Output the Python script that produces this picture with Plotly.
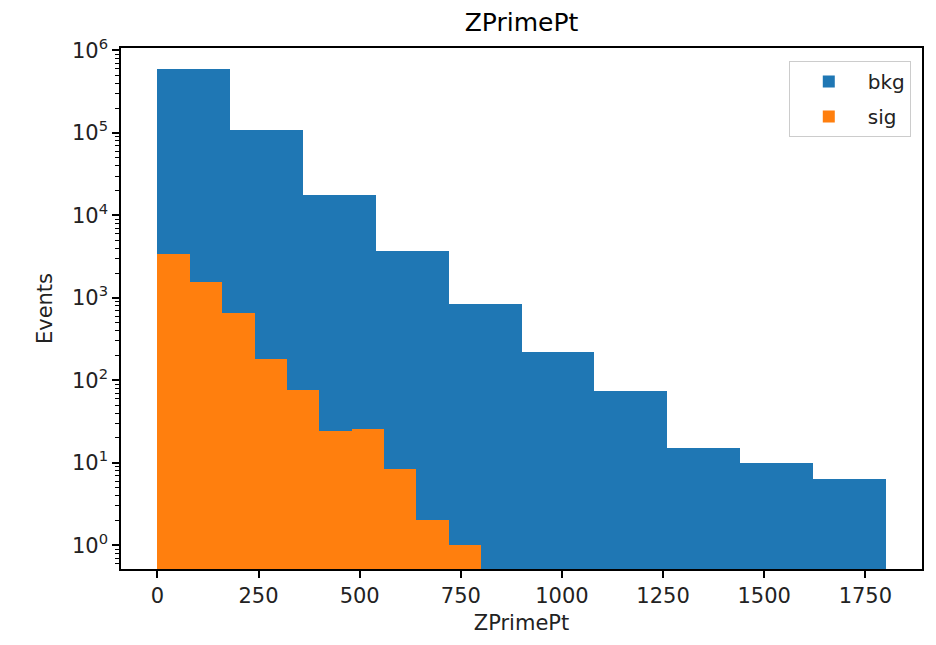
import plotly.graph_objects as go

# Data
bkg_edges = [0, 180, 360, 540, 720, 900, 1080, 1260, 1440, 1620, 1800]
bkg_counts = [603000, 107500, 17500, 3730, 848, 220, 75, 15, 10, 6.3]

sig_edges = [0, 80, 160, 240, 320, 400, 480, 560, 640, 720, 800]
sig_counts = [3430, 1555, 654, 182, 76, 24.2, 25.8, 8.4, 2.0, 1.0]

x_ticks = [0, 250, 500, 750, 1000, 1250, 1500, 1750]
y_tick_exps = [0, 1, 2, 3, 4, 5, 6]

FONT = "DejaVu Sans"


def centers(edges):
    return [(a + b) / 2 for a, b in zip(edges[:-1], edges[1:])]


def widths(edges):
    return [b - a for a, b in zip(edges[:-1], edges[1:])]


fig = go.Figure()
fig.add_trace(go.Bar(
    x=centers(bkg_edges), y=bkg_counts, width=widths(bkg_edges),
    name="bkg", legendgroup="bkg",
    marker=dict(color="#1f77b4", line=dict(width=0)),
))
fig.add_trace(go.Bar(
    x=centers(sig_edges), y=sig_counts, width=widths(sig_edges),
    name="sig", legendgroup="sig",
    marker=dict(color="#ff7f0e", line=dict(width=0)),
))

minor_vals = [m * 10 ** e for e in range(-1, 7) for m in range(2, 10)]

fig.update_layout(
    width=936, height=645,
    margin=dict(l=121, r=12, t=48, b=76),
    paper_bgcolor="white", plot_bgcolor="white",
    barmode="overlay", bargap=0,
    font=dict(family=FONT, size=21, color="black"),
    title=dict(text="ZPrimePt", x=0.5, xref="paper", xanchor="center",
               y=1 - 22 / 645, yanchor="middle",
               font=dict(size=25, family=FONT, color="black")),
    showlegend=True,
    legend=dict(x=0.986, y=0.975, xanchor="right", yanchor="top",
                bgcolor="white", bordercolor="#cccccc", borderwidth=1,
                font=dict(size=20, family=FONT, color="#222222"),
                traceorder="grouped", tracegroupgap=6,
                itemwidth=68),
    xaxis=dict(
        range=[-90, 1890], showgrid=False, zeroline=False,
        tickmode="array", tickvals=x_ticks, ticktext=[str(v) for v in x_ticks],
        ticks="outside", ticklen=7, tickwidth=1.5, tickcolor="black",
        showline=True, linecolor="black", linewidth=1.5, mirror=True,
        tickfont=dict(size=21, family=FONT, color="#222222"),
        title=dict(text="ZPrimePt", standoff=8,
                   font=dict(size=21, family=FONT, color="#222222")),
    ),
    yaxis=dict(
        type="log", range=[-0.288, 6.03], showgrid=False, zeroline=False,
        tickmode="array", tickvals=[10 ** e for e in y_tick_exps],
        ticktext=[f"10<sup>{e}</sup>" for e in y_tick_exps],
        ticks="outside", ticklen=7, tickwidth=1.5, tickcolor="black",
        showline=True, linecolor="black", linewidth=1.5, mirror=True,
        tickfont=dict(size=21, family=FONT, color="#222222"),
        minor=dict(tickvals=minor_vals, ticks="outside", ticklen=4,
                   tickwidth=1, tickcolor="black", showgrid=False),
        title=dict(text="Events", standoff=14,
                   font=dict(size=21, family=FONT, color="#222222")),
    ),
)

fig.write_html("out.html")
